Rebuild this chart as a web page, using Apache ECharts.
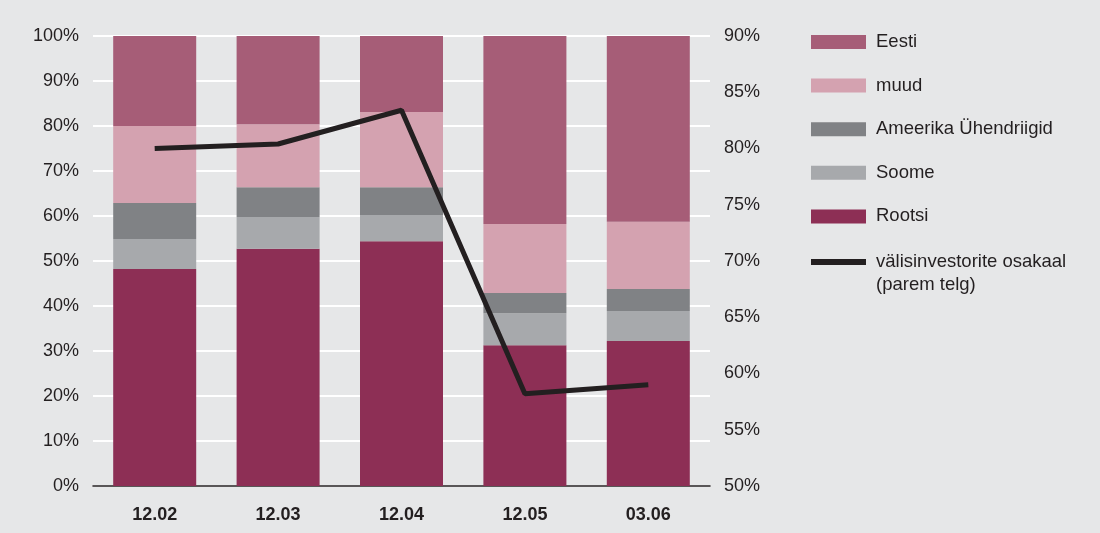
<!DOCTYPE html>
<html>
<head>
<meta charset="utf-8">
<script src="https://cdn.jsdelivr.net/npm/echarts@6/dist/echarts.min.js"></script>
<style>
  html, body { margin: 0; padding: 0; background: #e6e7e8; }
  #chart { width: 1100px; height: 533px; }
</style>
</head>
<body>
<div id="chart"></div>
<script>
// kategooriad
var categories = ['12.02', '12.03', '12.04', '12.05', '03.06'];

// osakaalud (%) - vasak telg
var rootsi   = [48.2, 52.7, 54.4, 31.3, 32.2];
var soome    = [6.7, 7.1, 5.8, 7.1, 6.7];
var ameerika = [8.0, 6.6, 6.2, 4.5, 4.9];
var muud     = [17.1, 14.0, 16.7, 15.3, 14.9];
var eesti    = [20.0, 19.6, 16.9, 41.8, 41.3];

// välisinvestorite osakaal (%) - parem telg
var valis = [80.0, 80.4, 83.4, 58.2, 59.0];

var lineName = 'välisinvestorite osakaal\n(parem telg)';

var fontFamily = '"Liberation Sans", Arial, sans-serif';
var textColor = '#231f20';

var chart = echarts.init(document.getElementById('chart'));

function barSeries(name, data, color) {
	return {
		name: name,
		type: 'bar',
		stack: 'total',
		barWidth: 83,
		yAxisIndex: 0,
		itemStyle: { color: color },
		data: data
	};
}

var legendText = {
	fontSize: 18.5,
	lineHeight: 22,
	color: textColor,
	fontFamily: fontFamily,
	padding: [0, 0, 0, 5]
};

var option = {
	backgroundColor: '#e6e7e8',
	animation: false,
	textStyle: { fontFamily: fontFamily },
	grid: {
		left: 93,
		right: 390,
		top: 36,
		bottom: 47
	},
	legend: [
		{
			orient: 'vertical',
			left: 806,
			top: 26,
			itemWidth: 55,
			itemHeight: 14,
			itemGap: 21.6,
			textStyle: legendText,
			data: [
				{ name: 'Eesti', icon: 'rect' },
				{ name: 'muud', icon: 'rect' },
				{ name: 'Ameerika Ühendriigid', icon: 'rect' },
				{ name: 'Soome', icon: 'rect' },
				{ name: 'Rootsi', icon: 'rect' }
			]
		},
		{
			// joone legend eraldi: kõrge ikoon, paks joon ülaosas -> esimese tekstireaga kohakuti
			orient: 'vertical',
			left: 806,
			top: 245,
			itemWidth: 55,
			itemHeight: 36,
			textStyle: Object.assign({}, legendText, { lineHeight: 23 }),
			data: [
				{
					name: lineName,
					icon: 'path://M0,0L0.01,0L0.01,0.01ZM0,4H55V10H0ZM0,36L0.01,36L0.01,35.99Z',
					itemStyle: { color: '#231f20' }
				}
			]
		}
	],
	xAxis: {
		type: 'category',
		data: categories,
		axisTick: { show: false },
		axisLine: { lineStyle: { color: textColor, width: 1.5 } },
		axisLabel: { fontSize: 18, fontWeight: 'bold', color: textColor, margin: 20, fontFamily: fontFamily }
	},
	yAxis: [
		{
			type: 'value',
			min: 0,
			max: 100,
			interval: 10,
			axisLine: { show: false },
			axisTick: { show: false },
			axisLabel: { formatter: '{value}%', fontSize: 18, color: textColor, margin: 14, fontFamily: fontFamily },
			splitLine: { lineStyle: { color: '#ffffff', width: 2 } }
		},
		{
			type: 'value',
			min: 50,
			max: 90,
			interval: 5,
			position: 'right',
			axisLine: { show: false },
			axisTick: { show: false },
			axisLabel: { formatter: '{value}%', fontSize: 18, color: textColor, margin: 14, fontFamily: fontFamily },
			splitLine: { show: false }
		}
	],
	series: [
		barSeries('Rootsi', rootsi, '#8d2f55'),
		barSeries('Soome', soome, '#a7a9ac'),
		barSeries('Ameerika Ühendriigid', ameerika, '#808285'),
		barSeries('muud', muud, '#d4a2b0'),
		barSeries('Eesti', eesti, '#a65d77'),
		{
			name: lineName,
			type: 'line',
			yAxisIndex: 1,
			symbol: 'none',
			lineStyle: { color: '#231f20', width: 5 },
			itemStyle: { color: '#231f20' },
			data: valis
		}
	]
};

chart.setOption(option);
</script>
</body>
</html>
